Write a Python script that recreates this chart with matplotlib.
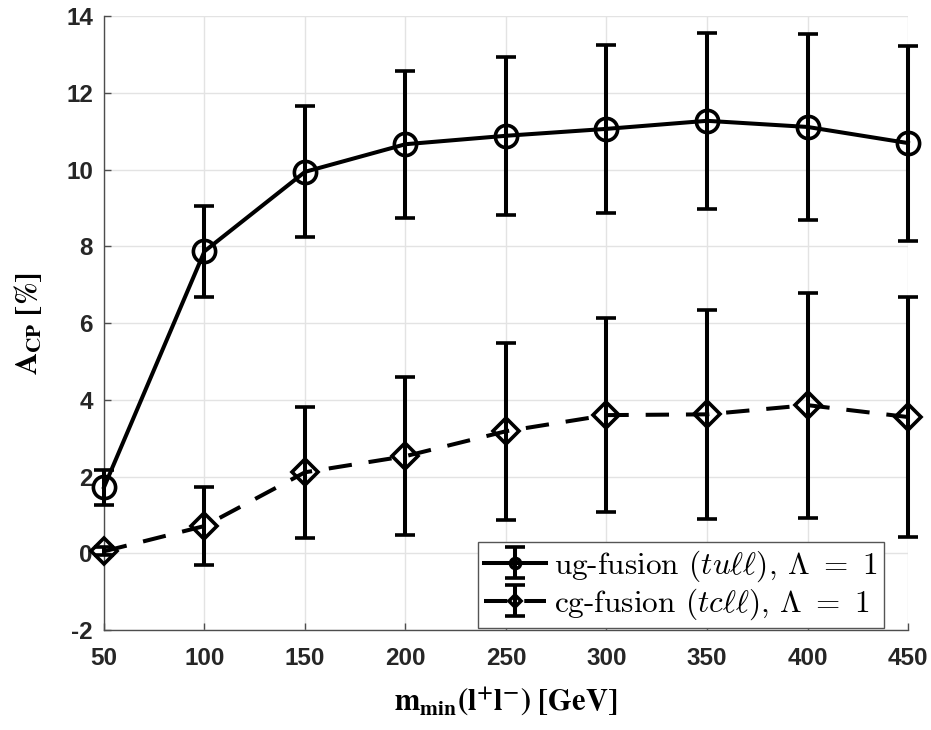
import matplotlib
matplotlib.use('Agg')  # Non-interactive backend
import matplotlib.pyplot as plt

# Values
m_min = [50, 100, 150, 200, 250, 300, 350, 400, 450]
ug_acp = [1.72, 7.87, 9.94, 10.66, 10.88, 11.06, 11.27, 11.11, 10.69]
ug_err = [0.45, 1.18, 1.71, 1.91, 2.06, 2.18, 2.30, 2.43, 2.54]
cg_acp = [0.05, 0.71, 2.11, 2.53, 3.18, 3.60, 3.62, 3.86, 3.55]
cg_err = [0.10, 1.01, 1.70, 2.06, 2.31, 2.53, 2.72, 2.93, 3.13]

ug_label = r'ug-fusion $(tu\ell\ell)$, $\Lambda\ =\ 1$'
cg_label = r'cg-fusion $(tc\ell\ell)$, $\Lambda\ =\ 1$'

x_ticks = [50, 100, 150, 200, 250, 300, 350, 400, 450]
y_ticks = [-2, 0, 2, 4, 6, 8, 10, 12, 14]

fig = plt.figure(figsize=(9.31, 7.3), dpi=100)
ax = fig.add_axes([0.1117, 0.137, 0.8636, 0.841])

# ug-fusion: solid line, open circles
ax.errorbar(m_min, ug_acp, yerr=ug_err, color='black', linewidth=2.9,
            marker='o', markersize=16, markerfacecolor='none',
            markeredgewidth=2.6, elinewidth=2.9, capsize=7, capthick=2.9,
            label=ug_label, zorder=3, clip_on=False)

# cg-fusion: dashed line, open diamonds
ax.errorbar(m_min, cg_acp, yerr=cg_err, color='black', linewidth=2.9,
            linestyle=(0, (5.8, 4.2)),
            marker='D', markersize=13.5, markerfacecolor='none',
            markeredgewidth=2.6, elinewidth=2.9, capsize=7, capthick=2.9,
            label=cg_label, zorder=3, clip_on=False)

ax.set_xlim(50, 450)
ax.set_ylim(-2, 14)
ax.set_xticks(x_ticks)
ax.set_yticks(y_ticks)
ax.set_yticklabels([str(t) for t in y_ticks])

# MATLAB-ish look: grid, no box, inward ticks
ax.grid(True, color='#e3e3e3', linewidth=1.0)
ax.set_axisbelow(True)
ax.spines['top'].set_visible(False)
ax.spines['right'].set_visible(False)
for side in ['left', 'bottom']:
    ax.spines[side].set_color('#4d4d4d')
    ax.spines[side].set_linewidth(1.0)
ax.tick_params(direction='in', length=5, width=1, color='#4d4d4d',
               labelsize=17.5)
ax.tick_params(axis='x', pad=12)
ax.tick_params(axis='y', pad=8)
for lab in ax.get_xticklabels() + ax.get_yticklabels():
    lab.set_fontfamily('Liberation Sans')
    lab.set_fontweight('bold')
    lab.set_color('#262626')

ax.set_xlabel(r'$\mathbf{m_{min}(l^{+}l^{-})\ [GeV]}$', fontsize=22,
              math_fontfamily='stix', labelpad=11)
ax.set_ylabel(r'$\mathbf{A_{CP}\ [\%]}$', fontsize=22,
              math_fontfamily='stix', labelpad=16)

leg = ax.legend(loc='lower right', bbox_to_anchor=(0.970, 0.003),
                borderaxespad=0, fancybox=False, framealpha=1,
                edgecolor='#555555', markerscale=0.45, handlelength=2.0,
                handletextpad=0.25, borderpad=0.2, labelspacing=0.08,
                prop={'family': 'cmr10', 'size': 22.5, 'math_fontfamily': 'cm'})
leg.get_frame().set_linewidth(1.0)

fig.savefig('out.png', dpi=100)
plt.close(fig)
